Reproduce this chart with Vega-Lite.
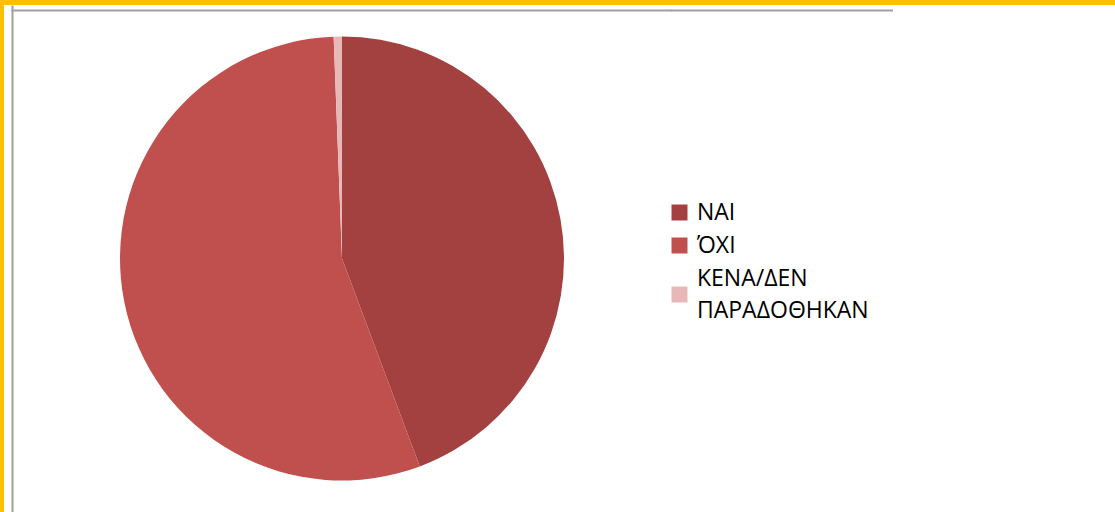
{
  "$schema": "https://vega.github.io/schema/vega-lite/v6.json",
  "background": "#FFC000",
  "padding": {"left": 4, "top": 5, "right": 0, "bottom": 0},
  "spacing": 0,
  "config": {
    "view": {"fill": "white", "stroke": null},
    "concat": {"spacing": 0},
    "font": "Open Sans"
  },
  "data": {
    "values": [
      {"answer": "ΝΑΙ", "pct": 44.3, "ord": 1},
      {"answer": "ΌΧΙ", "pct": 55.1, "ord": 2},
      {"answer": "ΚΕΝΑ/ΔΕΝ ΠΑΡΑΔΟΘΗΚΑΝ", "pct": 0.6, "ord": 3}
    ]
  },
  "hconcat": [
    {
      "width": 8,
      "height": 507,
      "view": {"fill": "white", "stroke": null},
      "mark": {"type": "point", "opacity": 0, "size": 0, "strokeWidth": 0},
      "encoding": {"x": {"field": "pct", "type": "quantitative", "axis": null}}
    },
    {
      "width": 660,
      "height": 507,
      "view": {"fill": "white", "stroke": null},
      "layer": [
        {
          "mark": {"type": "point", "opacity": 0, "size": 0, "strokeWidth": 0},
          "encoding": {
            "x": {"field": "pct", "type": "quantitative", "axis": {"orient": "top", "offset": -5, "domainColor": "#A0A0A0", "domainWidth": 2, "domainCap": "square", "ticks": false, "labels": false, "grid": false, "title": null}},
            "y": {"field": "pct", "type": "quantitative", "axis": {"orient": "left", "offset": 0, "domainColor": "#A0A0A0", "domainWidth": 2, "ticks": false, "labels": false, "grid": false, "title": null}}
          }
        },
        {
          "mark": {"type": "arc", "outerRadius": 222},
          "encoding": {
            "theta": {"field": "pct", "type": "quantitative", "stack": true},
            "order": {"field": "ord", "type": "quantitative"},
            "color": {
              "field": "answer",
              "type": "nominal",
              "sort": ["ΝΑΙ", "ΌΧΙ", "ΚΕΝΑ/ΔΕΝ ΠΑΡΑΔΟΘΗΚΑΝ"],
              "scale": {"domain": ["ΝΑΙ", "ΌΧΙ", "ΚΕΝΑ/ΔΕΝ ΠΑΡΑΔΟΘΗΚΑΝ"], "range": ["#A2413F", "#C0504D", "#E6B9B8"]},
              "legend": {
                "orient": "none",
                "legendX": 664,
                "legendY": 196,
                "title": null,
                "padding": 0,
                "symbolType": "square",
                "symbolSize": 256,
                "symbolStrokeWidth": 0,
                "symbolOpacity": 1,
                "labelFont": "Open Sans",
                "labelFontSize": 23,
                "labelColor": "#000000",
                "labelOffset": 6,
                "labelLimit": 0,
                "rowPadding": 9,
                "labelExpr": "split(datum.label, ' ')",
                "encode": {
                  "labels": {"update": {"lineHeight": {"value": 32}}},
                  "symbols": {"update": {"y": {"signal": "datum.index === 2 ? 27.5 : 11.5"}}}
                }
              }
            }
          }
        }
      ]
    },
    {
      "width": 221,
      "height": 507,
      "view": {"fill": "white", "stroke": null},
      "mark": {"type": "point", "opacity": 0, "size": 0, "strokeWidth": 0},
      "encoding": {"x": {"field": "pct", "type": "quantitative", "axis": {"orient": "top", "offset": -5, "domainColor": "#A0A0A0", "domainWidth": 2, "domainCap": "square", "ticks": false, "labels": false, "grid": false, "title": null}}}
    },
    {
      "width": 222,
      "height": 507,
      "view": {"fill": "white", "stroke": null},
      "mark": {"type": "point", "opacity": 0, "size": 0, "strokeWidth": 0},
      "encoding": {"x": {"field": "pct", "type": "quantitative", "axis": null}}
    }
  ]
}
